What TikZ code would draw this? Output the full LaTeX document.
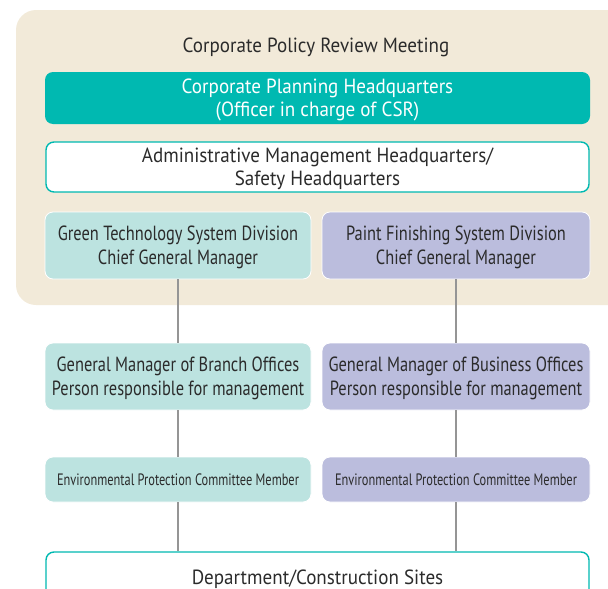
\documentclass[tikz,border=0pt]{standalone}
\usepackage{fontspec}
\setmainfont[FakeStretch=0.93]{PT Sans}
\newfontfamily\midfont[FakeStretch=0.8]{PT Sans}
\newfontfamily\narrowfont[FakeStretch=0.75]{PT Sans}
\newcommand{\twolines}[2]{\raisebox{-2.5pt}[\height][\depth]{\begin{tabular}{@{}c@{}}#1\\#2\end{tabular}}}
\definecolor{beige}{HTML}{F2EAD9}
\definecolor{teal}{HTML}{00B9B1}
\definecolor{lgreen}{HTML}{BCE3E0}
\definecolor{lpurple}{HTML}{BBBDDD}
\definecolor{txt}{HTML}{2B2B2B}
\definecolor{conn}{HTML}{959595}
\tikzset{
  box/.style={rectangle, rounded corners=8pt, align=center, text=txt, font=\fontsize{20.5}{23.5}\selectfont, inner sep=0pt},
  tealbox/.style={box, fill=teal, text=white, minimum width=545pt, minimum height=52pt},
  outbox/.style={box, draw=teal, line width=1.4pt, fill=white, minimum width=543pt, minimum height=50pt},
  greenbox/.style={box, fill=lgreen, draw=white, line width=0.8pt, minimum height=67pt, font=\midfont\fontsize{20.5}{23.5}\selectfont},
  purplebox/.style={box, fill=lpurple, draw=white, line width=0.8pt, minimum height=67pt, font=\midfont\fontsize{20.5}{23.5}\selectfont},
  smallfont/.style={font=\narrowfont\fontsize{16.5}{19}\selectfont},
  connector/.style={draw=conn, line width=2.4pt}
}
\begin{document}
\begin{tikzpicture}[x=1pt,y=-1pt]
\useasboundingbox (0,0) rectangle (608,589);
\clip (0,0) rectangle (608,589);
\fill[beige, rounded corners=20pt] (16,10) rectangle (640,305);
\node[box, fill=none] (title) at (316,47) {Corporate Policy Review Meeting};
\node[tealbox] (cph) at (317.5,98) {\twolines{Corporate Planning Headquarters}{(Officer in charge of CSR)}};
\node[outbox] (amh) at (317.5,167) {\twolines{Administrative Management Headquarters/}{Safety Headquarters}};
\node[greenbox, minimum width=266pt] (gt) at (178,245.5) {\twolines{Green Technology System Division}{Chief General Manager}};
\node[purplebox, minimum width=268pt] (pf) at (456,245.5) {\twolines{Paint Finishing System Division}{Chief General Manager}};
\node[greenbox, minimum width=266pt] (gm1) at (178,376.5) {\twolines{General Manager of Branch Offices}{Person responsible for management}};
\node[purplebox, minimum width=268pt] (gm2) at (456,376.5) {\twolines{General Manager of Business Offices}{Person responsible for management}};
\node[greenbox, smallfont, minimum width=266pt, minimum height=45pt] (ep1) at (178,479.5) {Environmental Protection Committee Member};
\node[purplebox, smallfont, minimum width=268pt, minimum height=45pt] (ep2) at (456,479.5) {Environmental Protection Committee Member};
\node[outbox, minimum height=54pt] (dept) at (317.5,579) {Department/Construction Sites};
\draw[connector] (gt.south) -- (gm1.north);
\draw[connector] (pf.south) -- (gm2.north);
\draw[connector] (gm1.south) -- (ep1.north);
\draw[connector] (gm2.south) -- (ep2.north);
\draw[connector] (ep1.south) -- (ep1.south |- dept.north);
\draw[connector] (ep2.south) -- (ep2.south |- dept.north);
\end{tikzpicture}
\end{document}
